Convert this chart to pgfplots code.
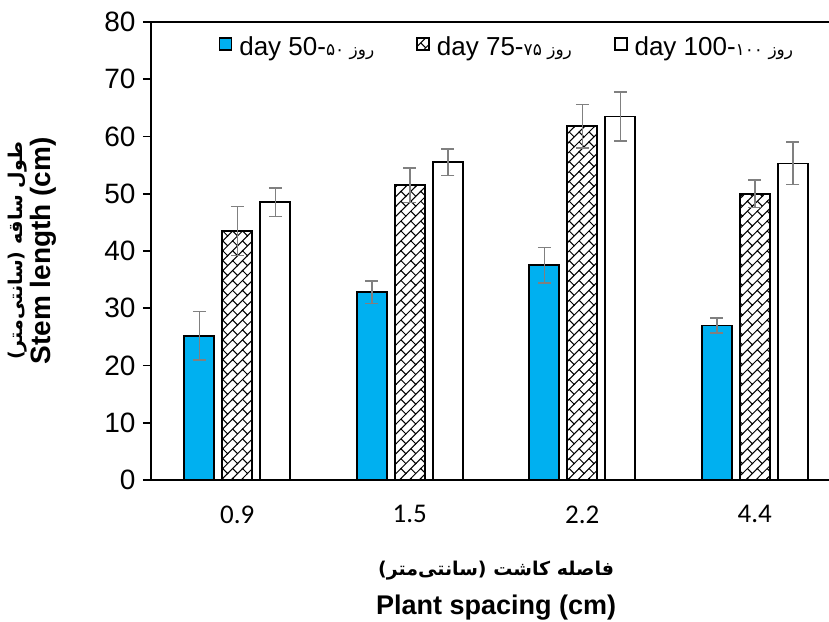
\documentclass[border=0pt]{standalone}
\usepackage{pgfplots}
\pgfplotsset{compat=1.18}
\usetikzlibrary{patterns.meta}
\usepackage{fontspec}
\setmainfont{Liberation Sans}
\newfontfamily\carlito{Carlito}
\newfontfamily\arabicfont[Script=Arabic]{DejaVu Sans}
\TeXXeTstate=1
\definecolor{barblue}{RGB}{0,176,240}
\definecolor{errgray}{RGB}{128,128,128}
\pgfdeclarepattern{
  name=diagbrick,
  type=uncolored,
  bottom left={\pgfpoint{-1pt}{-1pt}},
  top right={\pgfpoint{15pt}{15pt}},
  tile size={\pgfpoint{14pt}{14pt}},
  tile transformation={\pgftransformrotate{45}},
  code={
    \pgfsetlinewidth{1pt}
    \pgfpathmoveto{\pgfpoint{-1pt}{0pt}}\pgfpathlineto{\pgfpoint{15pt}{0pt}}
    \pgfpathmoveto{\pgfpoint{-1pt}{7pt}}\pgfpathlineto{\pgfpoint{15pt}{7pt}}
    \pgfpathmoveto{\pgfpoint{0pt}{0pt}}\pgfpathlineto{\pgfpoint{0pt}{7pt}}
    \pgfpathmoveto{\pgfpoint{7pt}{7pt}}\pgfpathlineto{\pgfpoint{7pt}{14pt}}
    \pgfusepath{stroke}
  }
}
\begin{document}
\begin{tikzpicture}
\begin{axis}[
  name=ax,
  width=678pt, height=458pt, scale only axis,
  xmin=-0.5, xmax=3.43, ymin=0, ymax=80,
  axis x line*=box, axis y line*=left,
  axis line style={line width=1.8pt},
  ybar=8pt, bar width=30pt,
  xtick={0,1,2,3}, xticklabels={0.9,1.5,2.2,4.4},
  xtick style={draw=none},
  xticklabel style={font=\carlito\fontsize{27}{32}\selectfont, yshift=-14pt},
  ytick={0,10,...,80},
  ytick pos=left, tick align=outside, major tick length=8pt,
  ytick style={line width=1.8pt, black},
  yticklabel style={font=\fontsize{28}{32}\selectfont, xshift=-4pt},
  /pgf/number format/assume math mode=true,
  every axis x label/.style={at={(axis description cs:0.509,-0.241)}, anchor=center, align=center},
  every axis y label/.style={at={(axis description cs:-0.175,0.5)}, rotate=90, anchor=center, align=center},
  xlabel={{\arabicfont\bfseries\fontsize{19}{23}\selectfont\beginR فاصله کاشت (سانتی‌متر)\endR}\\[14pt]{\bfseries\fontsize{27}{31}\selectfont Plant spacing (cm)}},
  ylabel={{\arabicfont\bfseries\fontsize{19}{23}\selectfont\beginR طول ساقه (سانتی‌متر)\endR}\\[2pt]{\bfseries\fontsize{28}{32}\selectfont Stem length (cm)}},
  legend columns=3,
  legend style={at={(0.525,0.945)}, anchor=center, draw=none, fill=none,
    font=\fontsize{26}{30}\selectfont, column sep=40pt,
    /tikz/every odd column/.append style={column sep=5pt}},
  legend image code/.code={\draw[#1, line width=1.6pt] (0pt,-3pt) rectangle (12pt,9pt);},
  error bars/y dir=both, error bars/y explicit,
  error bars/error mark options={rotate=90, mark size=6.5pt, errgray, line width=1.5pt},
  error bars/error bar style={errgray, line width=1.5pt},
]
\addplot[draw=black, line width=1.8pt, fill=barblue] coordinates {
  (0,25.2) +- (0,4.2)
  (1,32.8) +- (0,2.0)
  (2,37.5) +- (0,3.1)
  (3,27.0) +- (0,1.3)
};
\addplot[draw=black, line width=1.8pt, fill=white, pattern=diagbrick, pattern color=black] coordinates {
  (0,43.5) +- (0,4.3)
  (1,51.5) +- (0,3.0)
  (2,61.8) +- (0,3.8)
  (3,50.0) +- (0,2.4)
};
\addplot[draw=black, line width=1.8pt, fill=white] coordinates {
  (0,48.5) +- (0,2.5)
  (1,55.5) +- (0,2.3)
  (2,63.5) +- (0,4.3)
  (3,55.3) +- (0,3.7)
};
\addlegendentry{day 50-{\arabicfont\fontsize{17}{20}\selectfont\beginR روز ۵۰\endR}}
\addlegendentry{day 75-{\arabicfont\fontsize{17}{20}\selectfont\beginR روز ۷۵\endR}}
\addlegendentry{day 100-{\arabicfont\fontsize{17}{20}\selectfont\beginR روز ۱۰۰\endR}}
\end{axis}
\pgfresetboundingbox
\path ([shift={(-151pt,-142pt)}]ax.south west) rectangle ([shift={(0pt,22pt)}]ax.north east);
\end{tikzpicture}
\end{document}
